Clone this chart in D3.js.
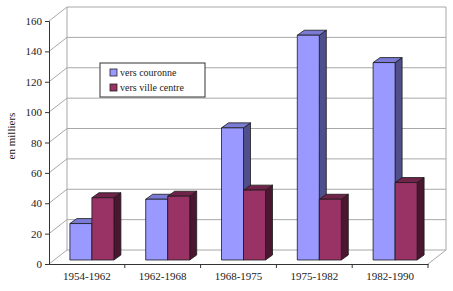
<!DOCTYPE html>
<html>
<head>
<meta charset="utf-8">
<script src="https://cdn.jsdelivr.net/npm/d3@7"></script>
<style>
  body { margin: 0; background: #fff; }
</style>
</head>
<body>
<svg id="chart" width="453" height="291"></svg>
<script>
const categories = ["1954-1962", "1962-1968", "1968-1975", "1975-1982", "1982-1990"];
const couronne = [24, 40, 87, 148, 130];
const villeCentre = [41, 42, 46, 40, 51];
const yTicks = [0, 20, 40, 60, 80, 100, 120, 140, 160];
const seriesNames = ["vers couronne", "vers ville centre"];

const svg = d3.select("#chart");
const plotLeft = 49, plotRight = 428, plotBottom = 264, plotTop = 21;
const wallDx = 18, wallDy = -14; // back wall offset
const barDx = 5, barDy = -4;     // bar plane offset
const depthDx = 7, depthDy = -5; // bar thickness
const barW = 22;

const x = d3.scaleBand().domain(categories).range([plotLeft, plotRight]);
const y = d3.scaleLinear().domain([0, 160]).range([plotBottom, plotTop]);

const grid = svg.append("g").attr("stroke", "#a8a8a8").attr("stroke-width", 1);
// back wall gridlines and left wall diagonals
yTicks.forEach((t) => {
  grid.append("line")
    .attr("x1", plotLeft + wallDx).attr("x2", plotRight + wallDx)
    .attr("y1", y(t) + wallDy).attr("y2", y(t) + wallDy);
  grid.append("line")
    .attr("x1", plotLeft).attr("x2", plotLeft + wallDx)
    .attr("y1", y(t)).attr("y2", y(t) + wallDy);
});
// wall edges
grid.append("line")
  .attr("x1", plotLeft + wallDx).attr("x2", plotLeft + wallDx)
  .attr("y1", y(160) + wallDy).attr("y2", y(0) + wallDy);
grid.append("line")
  .attr("x1", plotRight + wallDx).attr("x2", plotRight + wallDx)
  .attr("y1", y(160) + wallDy).attr("y2", y(0) + wallDy);
grid.append("line")
  .attr("x1", plotRight).attr("x2", plotRight + wallDx)
  .attr("y1", y(0)).attr("y2", y(0) + wallDy);

// bars
const series = [
  { values: couronne, front: "#9999ff", topC: "#7b7bd6", side: "#4f4f8c", offset: -barW },
  { values: villeCentre, front: "#993366", topC: "#70244a", side: "#4a1630", offset: 0 }
];
const bars = svg.append("g");
categories.forEach((c, i) => {
  const cx = x(c) + x.bandwidth() / 2 + barDx;
  series.forEach((s) => {
    const x0 = cx + s.offset, x1 = x0 + barW;
    const yb = y(0) + barDy, yt = y(s.values[i]) + barDy;
    const g = bars.append("g").attr("stroke", "#1a1a1a").attr("stroke-width", 0.8).attr("stroke-linejoin", "round");
    g.append("path")
      .attr("d", `M${x1},${yb}L${x1 + depthDx},${yb + depthDy}L${x1 + depthDx},${yt + depthDy}L${x1},${yt}Z`)
      .attr("fill", s.side);
    g.append("path")
      .attr("d", `M${x0},${yt}L${x0 + depthDx},${yt + depthDy}L${x1 + depthDx},${yt + depthDy}L${x1},${yt}Z`)
      .attr("fill", s.topC);
    g.append("rect")
      .attr("x", x0).attr("y", yt).attr("width", barW).attr("height", yb - yt)
      .attr("fill", s.front);
  });
});

// axes
const yAxis = svg.append("g")
  .attr("transform", `translate(${plotLeft},0)`)
  .call(d3.axisLeft(y).tickValues(yTicks).tickSize(4).tickPadding(3));
const xAxis = svg.append("g")
  .attr("transform", `translate(0,${plotBottom})`)
  .call(d3.axisBottom(x).tickSize(0).tickPadding(8));
[yAxis, xAxis].forEach((a) => {
  a.attr("font-size", 11);
  a.select(".domain").attr("stroke", "#333");
  a.selectAll(".tick line").attr("stroke", "#333");
  a.selectAll("text").attr("fill", "#222");
});
// boundary ticks on x axis
xAxis.selectAll(".sep")
  .data(categories)
  .enter().append("line")
  .attr("x1", (d, i) => plotLeft + x.step() * (i + 1))
  .attr("x2", (d, i) => plotLeft + x.step() * (i + 1))
  .attr("y1", 0).attr("y2", 4)
  .attr("stroke", "#333");

// y label
svg.append("text")
  .attr("transform", "translate(15,136) rotate(-90)")
  .attr("text-anchor", "middle")
  .attr("font-size", 11)
  .attr("fill", "#222")
  .text("en milliers");

// legend
const legend = svg.append("g").attr("transform", "translate(100,63)");
legend.append("rect")
  .attr("width", 105).attr("height", 34)
  .attr("fill", "#fff").attr("stroke", "#333").attr("stroke-width", 1);
seriesNames.forEach((n, i) => {
  legend.append("rect")
    .attr("x", 10).attr("y", 6 + i * 15)
    .attr("width", 7).attr("height", 7)
    .attr("fill", series[i].front).attr("stroke", "#222").attr("stroke-width", 0.8);
  legend.append("text")
    .attr("x", 20).attr("y", 13 + i * 15)
    .attr("font-size", 10).attr("fill", "#222")
    .text(n);
});

// serif font on every text
svg.selectAll("text").attr("font-family", "Liberation Serif");
</script>
</body>
</html>
